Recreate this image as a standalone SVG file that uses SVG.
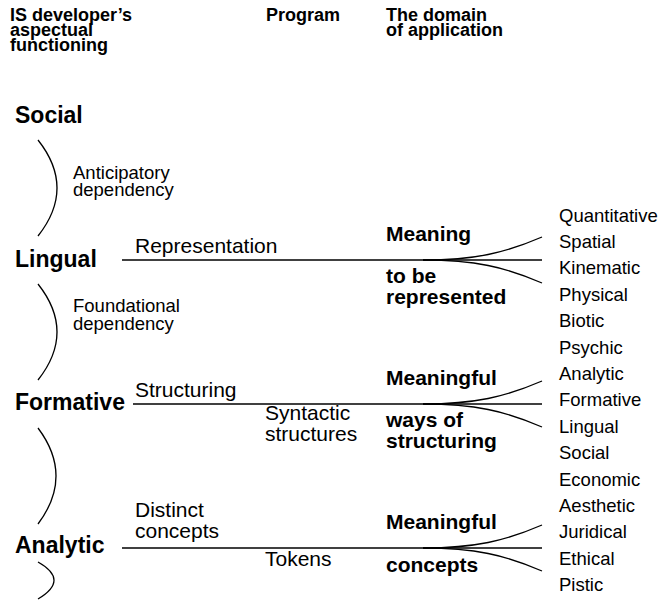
<svg xmlns="http://www.w3.org/2000/svg" width="658" height="609" viewBox="0 0 658 609">
  <style>
    text { font-family: "Liberation Sans", Arial, sans-serif; fill: #000; }
    .head { font-size: 18px; font-weight: bold; }
    .level { font-size: 23px; font-weight: bold; }
    .dep { font-size: 18.5px; }
    .act { font-size: 21px; }
    .mean { font-size: 21px; font-weight: bold; }
    .asp { font-size: 18.5px; }
    .wire { fill: none; stroke: #000; stroke-width: 1.3; }
  </style>

  <!-- column headings -->
  <g id="headings">
    <text class="head" x="10" y="21">IS developer’s</text>
    <text class="head" x="10" y="36">aspectual</text>
    <text class="head" x="10" y="51">functioning</text>
    <text class="head" x="266" y="21">Program</text>
    <text class="head" x="386" y="21">The domain</text>
    <text class="head" x="386" y="36">of application</text>
  </g>

  <!-- aspects of the developer's functioning -->
  <g id="social"><text class="level" x="15" y="123">Social</text></g>
  <g id="lingual"><text class="level" x="15" y="267">Lingual</text></g>
  <g id="formative"><text class="level" x="15" y="410">Formative</text></g>
  <g id="analytic"><text class="level" x="15" y="553">Analytic</text></g>

  <!-- dependency braces -->
  <g id="braces">
    <path class="wire" d="M38,140 Q76,188 38,236"/>
    <path class="wire" d="M38,284 Q76,332 38,380"/>
    <path class="wire" d="M38,428 Q74,476 38,524"/>
    <path class="wire" d="M38,562 Q70,580 38,599"/>
  </g>
  <g id="anticipatory">
    <text class="dep" x="73" y="179">Anticipatory</text>
    <text class="dep" x="73" y="196">dependency</text>
  </g>
  <g id="foundational">
    <text class="dep" x="73" y="312">Foundational</text>
    <text class="dep" x="73" y="330">dependency</text>
  </g>

  <!-- connectors from each aspect into the domain of application -->
  <g id="connectors">
    <path class="wire" d="M122,260 H542"/>
    <path class="wire" d="M423,260 C475,260 505,253 542,237"/>
    <path class="wire" d="M423,260 C475,260 505,267 542,283"/>

    <path class="wire" d="M133,404 H542"/>
    <path class="wire" d="M423,404 C475,404 505,397 542,381"/>
    <path class="wire" d="M423,404 C475,404 505,411 542,427"/>

    <path class="wire" d="M122,548 H542"/>
    <path class="wire" d="M423,548 C475,548 505,541 542,525"/>
    <path class="wire" d="M423,548 C475,548 505,555 542,571"/>
  </g>

  <!-- program labels -->
  <g id="representation"><text class="act" x="135" y="253">Representation</text></g>
  <g id="structuring"><text class="act" x="135" y="397">Structuring</text></g>
  <g id="syntactic">
    <text class="act" x="265" y="420">Syntactic</text>
    <text class="act" x="265" y="441">structures</text>
  </g>
  <g id="distinct">
    <text class="act" x="135" y="517">Distinct</text>
    <text class="act" x="135" y="538">concepts</text>
  </g>
  <g id="tokens"><text class="act" x="265" y="566">Tokens</text></g>

  <!-- meaning labels -->
  <g id="meaning-represented">
    <text class="mean" x="386" y="241">Meaning</text>
    <text class="mean" x="386" y="283">to be</text>
    <text class="mean" x="386" y="304">represented</text>
  </g>
  <g id="meaning-structuring">
    <text class="mean" x="386" y="385">Meaningful</text>
    <text class="mean" x="386" y="427">ways of</text>
    <text class="mean" x="386" y="448">structuring</text>
  </g>
  <g id="meaning-concepts">
    <text class="mean" x="386" y="529">Meaningful</text>
    <text class="mean" x="386" y="572">concepts</text>
  </g>

  <!-- modal aspects of the domain -->
  <g id="aspects">
    <text class="asp" x="559" y="221.5">Quantitative</text>
    <text class="asp" x="559" y="247.9">Spatial</text>
    <text class="asp" x="559" y="274.3">Kinematic</text>
    <text class="asp" x="559" y="300.7">Physical</text>
    <text class="asp" x="559" y="327.1">Biotic</text>
    <text class="asp" x="559" y="353.5">Psychic</text>
    <text class="asp" x="559" y="379.9">Analytic</text>
    <text class="asp" x="559" y="406.3">Formative</text>
    <text class="asp" x="559" y="432.7">Lingual</text>
    <text class="asp" x="559" y="459.1">Social</text>
    <text class="asp" x="559" y="485.5">Economic</text>
    <text class="asp" x="559" y="511.9">Aesthetic</text>
    <text class="asp" x="559" y="538.3">Juridical</text>
    <text class="asp" x="559" y="564.7">Ethical</text>
    <text class="asp" x="559" y="591.1">Pistic</text>
  </g>
</svg>
